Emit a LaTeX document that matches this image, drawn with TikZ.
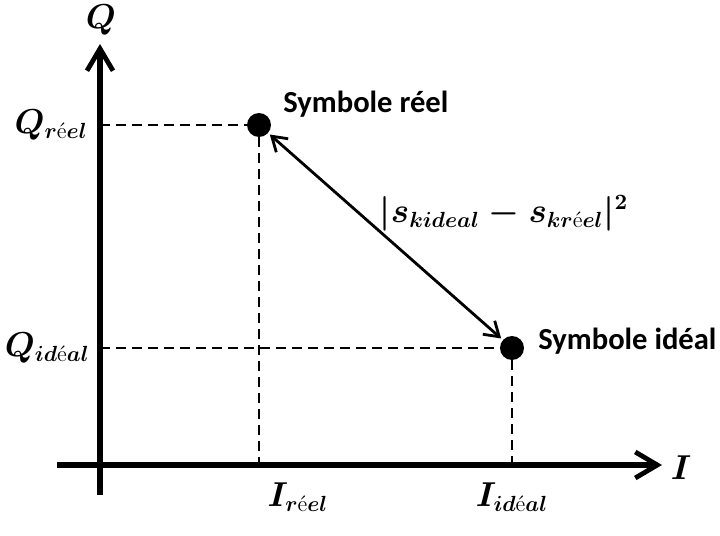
\documentclass[tikz,border=0pt]{standalone}
\usepackage{amsmath}
\usepackage{fontspec}
\newfontfamily\calib{Carlito}
\usetikzlibrary{arrows.meta, positioning}

\begin{document}
\begin{tikzpicture}[
  x=0.5pt, y=-0.5pt,
  axe/.style={line width=2.6pt, -{Straight Barb[length=11pt, width=13pt, line width=2.4pt]}},
  proj/.style={line width=1.2pt, dash pattern=on 5pt off 3pt},
  dist/.style={line width=1.4pt, {Straight Barb[length=7pt, width=9pt]}-{Straight Barb[length=7pt, width=9pt]}, shorten <=1pt, shorten >=1pt},
  dot/.style={circle, fill=black, inner sep=0pt, minimum size=12pt},
  mlab/.style={font=\fontsize{16}{18}\selectfont\boldmath, inner sep=1pt},
  symlab/.style={font=\calib\bfseries\fontsize{15.3}{18}\selectfont, anchor=west, inner sep=0pt}
]
\useasboundingbox (0,0) rectangle (720,536);

% axes
\coordinate (vbot) at (100,495);
\coordinate (vtop) at (100,44);
\coordinate (hleft) at (57,465);
\coordinate (hright) at (662,465);
\draw[axe] (vbot) -- (vtop);
\draw[axe] (hleft) -- (hright);
\node[mlab] (qaxe) at (101,20) {$Q$};
\node[mlab] (iaxe) at (681,468) {$I$};

% symboles
\node[dot] (sreel) at (259,125) {};
\node[dot] (sideal) at (512,348) {};
\node[symlab] (lreel) at (283,104) {Symbole réel};
\node[symlab] (lideal) at (538,341) {Symbole idéal};

% projections
\coordinate (qr) at (100,125);
\coordinate (qi) at (100,348);
\coordinate (ir) at (259,465);
\coordinate (ii) at (512,465);
\draw[proj] (qr) -- (sreel.west);
\draw[proj] (sreel.south) -- (ir);
\draw[proj] (qi) -- (sideal.west);
\draw[proj] (sideal.south) -- (ii);

\node[mlab, left=5pt of qr] (lqr) {$Q_{r\text{\mdseries é}el}$};
\node[mlab, left=4pt of qi] (lqi) {$Q_{id\text{\mdseries é}al}$};
\node[mlab] (lir) at (298,497) {$I_{r\text{\mdseries é}el}$};
\node[mlab] (lii) at (512,497) {$I_{id\text{\mdseries é}al}$};

% distance
\draw[dist] (sreel) -- (sideal);
\node[mlab] (ldist) at (504,213) {$|s_{kideal}-s_{kr\text{\mdseries é}el}|^2$};

\end{tikzpicture}
\end{document}
